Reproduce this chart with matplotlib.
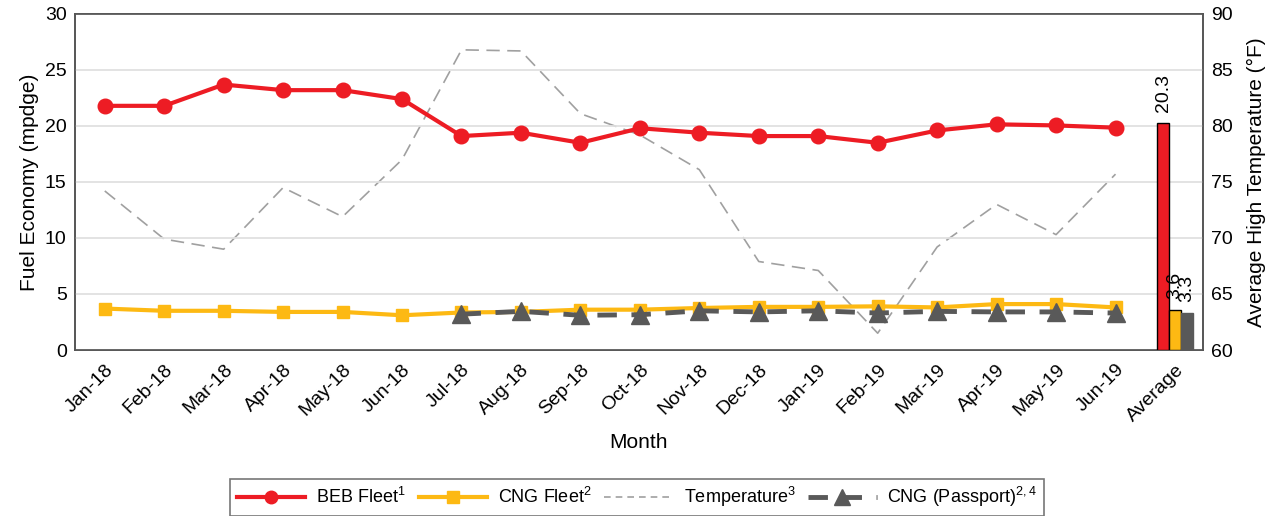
import numpy as np
import matplotlib.pyplot as plt
from matplotlib.lines import Line2D

plt.rcParams['font.family'] = ['Liberation Sans', 'DejaVu Sans']
plt.rcParams['mathtext.default'] = 'regular'

months = ["Jan-18", "Feb-18", "Mar-18", "Apr-18", "May-18", "Jun-18", "Jul-18", "Aug-18",
          "Sep-18", "Oct-18", "Nov-18", "Dec-18", "Jan-19", "Feb-19", "Mar-19", "Apr-19",
          "May-19", "Jun-19"]
beb = [21.8, 21.8, 23.7, 23.2, 23.2, 22.4, 19.1, 19.4, 18.5, 19.8, 19.4, 19.1, 19.1,
       18.5, 19.6, 20.15, 20.05, 19.85]
cng = [3.7, 3.5, 3.5, 3.4, 3.4, 3.1, 3.35, 3.4, 3.6, 3.6, 3.75, 3.85, 3.85, 3.9, 3.8,
       4.1, 4.1, 3.8]
# passport data starts at Jul-18
passport = [3.2, 3.45, 3.1, 3.15, 3.5, 3.4, 3.5, 3.3, 3.45, 3.4, 3.4, 3.3]
temp = [74.2, 69.9, 69.0, 74.5, 71.9, 77.0, 86.8, 86.7, 81.1, 79.2, 76.1, 67.9, 67.1,
        61.5, 69.2, 73.0, 70.3, 75.7]
averages = [20.3, 3.6, 3.3]

RED = '#ED1C24'
YEL = '#FDB913'
GRY = '#595959'

fig = plt.figure(figsize=(12.74, 5.16), dpi=100)
ax = fig.add_axes([0.0589, 0.3217, 0.8853, 0.6512])
ax2 = ax.twinx()

x = np.arange(len(months))
xp = x[6:]

ax2.plot(x, temp, color='#A0A0A0', lw=1.2, ls=(0, (8, 4.5)), zorder=1)

ax.plot(x, beb, color=RED, lw=3, marker='o', ms=10.5, zorder=5)
ax.plot(x, cng, color=YEL, lw=3, marker='s', ms=9, zorder=4)
ax.plot(xp, passport, color=GRY, lw=3.5, ls=(0, (4, 3)), marker='^', ms=13, zorder=6)

xa = len(months)
bw = 0.2
bars = ax.bar([xa - bw, xa, xa + bw], averages, width=bw,
              color=[RED, YEL, GRY], edgecolor=['black', 'black', GRY], lw=1, zorder=3)
for b, v in zip(bars, averages):
    ax.annotate(f"{v:.1f}", (b.get_x() + b.get_width() / 2, v), xytext=(0, 8),
                textcoords='offset points', rotation=90, ha='center', va='bottom',
                fontsize=14)

ax.set_xlim(-0.5, xa + 0.47)
ax.set_ylim(0, 30)
ax2.set_ylim(60, 90)
ax.set_yticks(np.arange(0, 31, 5))
ax2.set_yticks(np.arange(60, 91, 5))
ax.set_xticks(list(x) + [xa])
ax.set_xticklabels(months + ["Average"], rotation=45, ha='right', rotation_mode='anchor')
ax.tick_params(axis='both', labelsize=14, length=0, pad=6)
ax2.tick_params(axis='y', labelsize=14, length=0, pad=6)
ax.tick_params(axis='x', pad=8)
ax.grid(axis='y', color='#E0E0E0', lw=1.3, zorder=0)
ax.set_axisbelow(True)
ax.set_zorder(ax2.get_zorder() + 1)
ax.patch.set_visible(False)
for a in (ax, ax2):
    for s in a.spines.values():
        s.set_color('#555555')
        s.set_linewidth(1.2)

ax.set_ylabel('Fuel Economy (mpdge)', fontsize=15)
ax2.set_ylabel('Average High Temperature (°F)', fontsize=15, labelpad=10)
ax.set_xlabel('Month', fontsize=15, labelpad=6)

handles = [
    Line2D([], [], color=RED, lw=3, marker='o', ms=9),
    Line2D([], [], color=YEL, lw=3, marker='s', ms=8),
    Line2D([], [], color='#A0A0A0', lw=1.2, ls=(0, (4, 3))),
    Line2D([], [], color=GRY, lw=3.5, ls=(0, (4, 3)), marker='^', ms=11),
]
labels = ['BEB Fleet$^1$', 'CNG Fleet$^2$', 'Temperature$^3$', 'CNG (Passport)$^{2,4}$']
leg = fig.legend(handles, labels, loc='center', bbox_to_anchor=(0.500, 0.036), ncol=4,
                 fontsize=13, frameon=True, fancybox=False, edgecolor='#555555',
                 handlelength=3.8, columnspacing=0.7, handletextpad=0.6, borderpad=0.35)
leg.get_frame().set_linewidth(1.2)

fig.savefig('out.png', dpi=100)
